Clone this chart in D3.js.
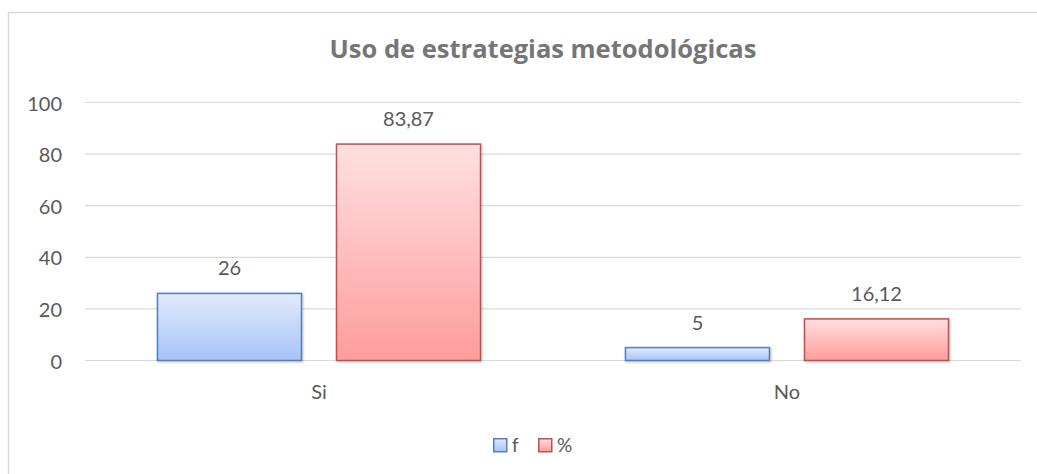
<!DOCTYPE html>
<html>
<head>
<meta charset="utf-8">
<script src="https://cdn.jsdelivr.net/npm/d3@7"></script>
<style>
  body { margin: 0; background: #fff; }
  text { font-family: Lato, "Open Sans", sans-serif; fill: #595959; }
</style>
</head>
<body>
<svg id="chart" width="1037" height="474"></svg>
<script>
const categories = ['Si', 'No'];
const seriesNames = ['f', '%'];
const fValues = [26, 5];
const pctValues = [83.87, 16.12];
const yTicks = [0, 20, 40, 60, 80, 100];
const TITLE = 'Uso de estrategias metodológicas';

const SERIES_STYLE = {
    f: { top: '#e2ebfc', bottom: '#a6c3f7', stroke: '#4f7fc0' },
    '%': { top: '#ffe0e0', bottom: '#ff9c9c', stroke: '#c0504d' }
};

const svg = d3.select('#chart');
const margin = { left: 85, right: 16, top: 102.5, bottom: 113.5 };
const W = 1037, H = 474;

const defs = svg.append('defs');
seriesNames.forEach((s, i) => {
    const g = defs.append('linearGradient').attr('id', 'grad' + i)
        .attr('x1', 0).attr('y1', 0).attr('x2', 0).attr('y2', 1);
    g.append('stop').attr('offset', '0%').attr('stop-color', SERIES_STYLE[s].top);
    g.append('stop').attr('offset', '100%').attr('stop-color', SERIES_STYLE[s].bottom);
});
const shadow = defs.append('filter').attr('id', 'shadow').attr('x', '-10%').attr('y', '-10%').attr('width', '130%').attr('height', '130%');
shadow.append('feDropShadow').attr('dx', 1).attr('dy', 1).attr('stdDeviation', 1).attr('flood-color', '#000').attr('flood-opacity', 0.25);

// outer chart border (cut off at right and bottom like the source)
svg.append('path')
    .attr('d', `M8.5,${H + 2} V12.5 H${W + 2}`)
    .attr('fill', 'none').attr('stroke', '#d9d9d9').attr('stroke-width', 1.5);

svg.append('text')
    .attr('x', 543).attr('y', 58)
    .attr('text-anchor', 'middle')
    .style('font-family', '"Open Sans", sans-serif')
    .style('font-weight', 'bold').style('font-size', '25.5px')
    .style('fill', '#767676')
    .text(TITLE);

const x0 = d3.scaleBand().domain(categories).range([margin.left, W - margin.right]);
const x1 = d3.scaleBand().domain(seriesNames).range([0, x0.bandwidth()]).paddingInner(0.19).paddingOuter(0.402);
const y = d3.scaleLinear().domain([0, 100]).range([H - margin.bottom, margin.top]);

// gridlines
svg.append('g').selectAll('line').data(yTicks).join('line')
    .attr('x1', margin.left).attr('x2', W - margin.right)
    .attr('y1', d => y(d)).attr('y2', d => y(d))
    .attr('stroke', '#d9d9d9').attr('stroke-width', 1.2);

const yAxis = svg.append('g').attr('transform', `translate(${margin.left - 23},0)`)
    .call(d3.axisLeft(y).tickValues(yTicks).tickSize(0).tickPadding(0));
yAxis.select('.domain').remove();
yAxis.selectAll('text').style('font-size', '20px').style('fill', '#595959').attr('dy', '0.38em');

const xAxis = svg.append('g').attr('transform', `translate(0,${y(0)})`)
    .call(d3.axisBottom(x0).tickSize(0).tickPadding(24));
xAxis.select('.domain').remove();
xAxis.selectAll('text').style('font-size', '20px').style('fill', '#595959');

const rows = categories.map((c, i) => ({ cat: c, vals: [fValues[i], pctValues[i]] }));
const fmt = v => String(v).replace('.', ',');

const groups = svg.append('g').selectAll('g').data(rows).join('g')
    .attr('transform', d => `translate(${x0(d.cat)},0)`);

groups.selectAll('rect').data(d => d.vals.map((v, i) => ({ s: seriesNames[i], i, v }))).join('rect')
    .attr('x', d => x1(d.s) + 0.5)
    .attr('width', x1.bandwidth() - 1)
    .attr('y', d => y(d.v))
    .attr('height', d => y(0) - y(d.v))
    .attr('fill', d => `url(#grad${d.i})`)
    .attr('stroke', d => SERIES_STYLE[d.s].stroke)
    .attr('stroke-width', 1.5)
    .attr('filter', 'url(#shadow)');

groups.selectAll('text.lbl').data(d => d.vals.map((v, i) => ({ s: seriesNames[i], v }))).join('text')
    .attr('class', 'lbl')
    .attr('x', d => x1(d.s) + x1.bandwidth() / 2)
    .attr('y', d => y(d.v) - 18)
    .attr('text-anchor', 'middle')
    .style('font-size', '20px')
    .text(d => fmt(d.v));

// legend
const legend = svg.append('g').attr('transform', 'translate(493,438)');
const legendX = [0, 45];
seriesNames.forEach((s, i) => {
    const g = legend.append('g').attr('transform', `translate(${legendX[i]},0)`);
    g.append('rect').attr('x', 0.75).attr('y', 0.75).attr('width', 13).attr('height', 13)
        .attr('fill', `url(#grad${i})`).attr('stroke', SERIES_STYLE[s].stroke).attr('stroke-width', 1.5);
    g.append('text').attr('x', 19).attr('y', 14).style('font-size', '19px').text(s);
});
</script>
</body>
</html>
